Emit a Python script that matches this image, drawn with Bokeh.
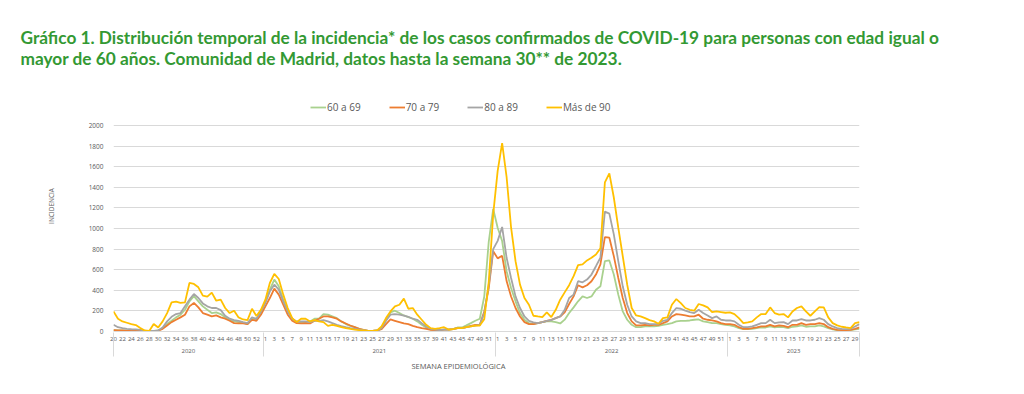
from bokeh.plotting import figure
from bokeh.models import Range1d, FixedTicker, LinearAxis, Legend, LegendItem, Title
from bokeh.embed import file_html
from bokeh.resources import INLINE

# ---------------- data ----------------
years = ["2020", "2021", "2022", "2023"]
first_week = [20, 1, 1, 1]
last_week = [53, 52, 52, 30]

# 60 a 69
g60_2020 = [13, 10, 10, 8, 8, 6, 5, 3, 3, 3, 10, 33, 72, 104, 137, 163, 211, 293, 342, 293,
            244, 211, 179, 185, 169, 137, 114, 98, 91, 85, 72, 124, 114, 179]
g60_2021 = [293, 407, 504, 439, 309, 195, 124, 91, 91,
            91, 98, 124, 124, 169, 163, 146, 130, 98, 72, 55, 42, 26, 13, 6, 6, 10, 26, 114, 185,
            202, 179, 156, 140, 124, 98, 65, 39, 19, 13, 13, 19, 19, 23, 39, 39, 59, 81, 104, 124,
            340, 870, 1190]
g60_2022 = [1008, 878, 585, 423, 293, 179, 114, 81, 72, 81, 91, 98, 98, 91, 78,
            115, 179, 234, 293, 341, 325, 341, 406, 439, 683, 690, 553, 358, 195, 114, 65, 42, 42, 49, 49,
            49, 55, 65, 72, 81, 98, 104, 104, 107, 114, 117, 98, 91, 81, 81, 72, 65]
g60_2023 = [59, 49, 33, 23, 23, 26, 33, 39, 39, 49, 39, 46, 42, 33, 46, 49, 59, 46, 49, 49,
            59, 49, 33, 20, 13, 10, 10, 13, 20, 26]

# 70 a 79
g70_2020 = [13, 10, 10, 8, 8, 6, 5, 3, 3, 3, 7, 26, 59, 91, 114, 137, 163, 244, 277, 234,
            179, 163, 146, 156, 137, 124, 104, 81, 78, 78, 72, 114, 104, 163]
g70_2021 = [244, 325, 416, 358, 260, 163, 104, 81, 78,
            81, 78, 104, 124, 146, 146, 137, 124, 98, 78, 58, 42, 26, 16, 6, 6, 10, 23, 72, 117,
            104, 91, 78, 72, 55, 42, 33, 26, 16, 13, 13, 19, 19, 23, 33, 33, 42, 55, 65, 65,
            195, 420, 780]
g70_2022 = [710, 735, 490, 340, 228, 146, 91, 72, 72, 81, 91, 104, 114, 130, 146,
            185, 267, 341, 449, 429, 449, 488, 553, 651, 917, 911, 732, 520, 325, 179, 98, 59, 59, 65, 59,
            65, 65, 81, 98, 146, 169, 163, 156, 146, 146, 163, 124, 114, 107, 98, 81, 72]
g70_2023 = [72, 65, 42, 26, 26, 33, 39, 49, 49, 65, 49, 59, 55, 42, 65, 65, 81, 65, 72, 72,
            81, 72, 42, 26, 16, 13, 13, 16, 26, 39]

# 80 a 89
g80_2020 = [65, 42, 33, 26, 22, 20, 16, 5, 5, 5, 10, 39, 98, 143, 169, 179, 244, 309, 364, 325,
            273, 244, 228, 228, 208, 153, 124, 111, 104, 91, 81, 137, 124, 195]
g80_2021 = [277, 390, 455, 407, 293, 195, 124, 98, 98,
            98, 91, 104, 104, 111, 98, 81, 65, 52, 42, 33, 26, 19, 13, 6, 6, 10, 33, 104, 163,
            169, 163, 153, 143, 124, 114, 81, 49, 26, 19, 13, 19, 19, 23, 33, 33, 42, 49, 58, 65,
            179, 450, 800]
g80_2022 = [880, 1015, 716, 520, 341, 228, 146, 104, 88, 81, 91, 104, 111, 130, 146,
            210, 325, 358, 488, 478, 504, 553, 634, 716, 1164, 1145, 943, 683, 439, 260, 146, 98, 81, 81, 72,
            72, 72, 104, 114, 179, 228, 221, 202, 189, 179, 211, 179, 156, 130, 146, 114, 107]
g80_2023 = [107, 98, 65, 42, 42, 49, 65, 81, 81, 114, 81, 88, 91, 72, 107, 107, 120, 107, 107, 114,
            130, 114, 72, 49, 33, 26, 23, 26, 49, 72]

# Más de 90
g90_2020 = [195, 124, 98, 85, 72, 62, 33, 10, 5, 72, 39, 98, 179, 283, 290, 277, 283, 471, 462, 429,
            348, 338, 377, 299, 309, 228, 179, 202, 137, 117, 111, 221, 150, 211]
g90_2021 = [309, 471, 559, 510, 358, 228, 130, 91, 124,
            124, 98, 111, 98, 91, 55, 65, 55, 42, 33, 26, 19, 13, 10, 6, 6, 10, 49, 130, 195,
            244, 260, 319, 221, 228, 163, 114, 65, 33, 26, 33, 42, 19, 23, 33, 33, 42, 49, 58, 58,
            120, 480, 1140]
g90_2022 = [1560, 1830, 1500, 1010, 683, 455, 325, 260, 153, 146, 140, 185, 140, 211, 309,
            380, 450, 537, 644, 651, 690, 716, 748, 807, 1447, 1535, 1301, 1008, 732, 455, 228, 156, 146, 130, 111,
            98, 75, 130, 137, 260, 315, 276, 228, 211, 202, 267, 254, 234, 189, 195, 189, 182]
g90_2023 = [185, 169, 130, 81, 88, 98, 137, 169, 169, 234, 179, 163, 169, 137, 195, 228, 244, 195, 153, 195,
            237, 234, 137, 81, 59, 46, 39, 33, 81, 91]

series_names = ["60 a 69", "70 a 79", "80 a 89", "Más de 90"]
series_colors = ["#a9d18e", "#ed7d31", "#a5a5a5", "#ffc000"]
series_values = [
    g60_2020 + g60_2021 + g60_2022 + g60_2023,
    g70_2020 + g70_2021 + g70_2022 + g70_2023,
    g80_2020 + g80_2021 + g80_2022 + g80_2023,
    g90_2020 + g90_2021 + g90_2022 + g90_2023,
]
y_ticks = list(range(0, 2001, 200))

title_line1 = ("Gráfico 1. Distribución temporal de la incidencia* de los casos confirmados "
               "de COVID-19 para personas con edad igual o")
title_line2 = "mayor de 60 años. Comunidad de Madrid, datos hasta la semana 30** de 2023."

# ---------------- categories ----------------
weeks, year_of = [], []
for yr, a, b in zip(years, first_week, last_week):
    for w in range(a, b + 1):
        weeks.append(w)
        year_of.append(yr)
xs = list(range(len(weeks)))
for v in series_values:
    assert len(v) == len(xs), len(v)

last = len(xs) - 1
bounds = [0]
for i in range(1, len(xs)):
    if year_of[i] != year_of[i - 1]:
        bounds.append(i - 0.5)
bounds.append(last)
centers = [(bounds[k] + bounds[k + 1]) / 2 for k in range(len(years))]

GRID = "#d9d9d9"
TXT = "#595959"
FONT = "Open Sans"

# frame extends above the 2000 gridline to host the legend
p = figure(width=1008, height=378, output_backend="svg", toolbar_location=None,
           x_range=Range1d(0, last), y_range=Range1d(0, 2437),
           min_border_left=113, min_border_right=149, min_border_top=80, min_border_bottom=47)
p.outline_line_color = None
p.background_fill_color = "white"

renderers = []
for name, col, vals in zip(series_names, series_colors, series_values):
    r = p.line(xs, vals, line_color=col, line_width=1.8)
    renderers.append(r)

# y axis
p.yaxis.ticker = FixedTicker(ticks=y_ticks)
p.yaxis.major_tick_out = 0
p.yaxis.major_tick_in = 0
p.yaxis.minor_tick_out = 0
p.yaxis.minor_tick_in = 0
p.yaxis.axis_line_color = None
p.yaxis.major_label_text_font_size = "6.5px"
p.yaxis.major_label_text_color = TXT
p.yaxis.major_label_text_font = FONT
p.yaxis.major_label_standoff = 10
p.yaxis.axis_label = "INCIDENCIA"
p.yaxis.axis_label_text_font_size = "6.5px"
p.yaxis.axis_label_text_font_style = "normal"
p.yaxis.axis_label_text_color = TXT
p.yaxis.axis_label_text_font = FONT
p.yaxis.axis_label_standoff = 30
p.ygrid.ticker = FixedTicker(ticks=y_ticks)
p.ygrid.grid_line_color = GRID
p.xgrid.visible = False

# week axis
wk_ticks = xs[::2]
p.xaxis.ticker = FixedTicker(ticks=wk_ticks)
p.xaxis.major_label_overrides = {i: str(weeks[i]) for i in wk_ticks}
p.xaxis.major_tick_out = 0
p.xaxis.major_tick_in = 0
p.xaxis.minor_tick_out = 0
p.xaxis.minor_tick_in = 0
p.xaxis.axis_line_color = GRID
p.xaxis.major_label_text_font_size = "6px"
p.xaxis.major_label_text_color = TXT
p.xaxis.major_label_text_font = FONT
p.xaxis.major_label_standoff = 5

# year axis (minor ticks = year separators)
yr_axis = LinearAxis(ticker=FixedTicker(ticks=centers, minor_ticks=bounds),
                     major_label_overrides={c: y for c, y in zip(centers, years)},
                     major_tick_in=0, major_tick_out=0,
                     minor_tick_in=11, minor_tick_out=13, minor_tick_line_color=GRID,
                     axis_line_color=None, major_label_standoff=-8,
                     major_label_text_font_size="6px", major_label_text_color=TXT,
                     major_label_text_font=FONT)
p.add_layout(yr_axis, "below")

p.add_layout(Title(text="SEMANA EPIDEMIOLÓGICA", align="left", offset=298,
                   text_font_size="7.5px", text_font_style="normal", text_color=TXT,
                   text_font=FONT, standoff=6), "below")

# legend (inside the extended frame, above the 2000 gridline)
items = [LegendItem(label=n, renderers=[r]) for n, r in zip(series_names, renderers)]
legend = Legend(items=items, orientation="horizontal", location=(197, 214), margin=0, padding=8,
                spacing=28, glyph_width=16, glyph_height=20, label_height=20, label_standoff=1,
                label_text_font_size="10px", label_text_color=TXT, label_text_font=FONT,
                border_line_color=None, background_fill_alpha=0)
p.add_layout(legend)

# two-line chart title
TITLE_COLOR = "#339933"
p.add_layout(Title(text=title_line1 + "\n" + title_line2, align="left", offset=-93,
                   text_font="Lato", text_font_size="17.3px", text_font_style="bold",
                   text_color=TITLE_COLOR, text_line_height=1.0, standoff=23), "above")

open("out.html", "w").write(file_html(p, INLINE))
